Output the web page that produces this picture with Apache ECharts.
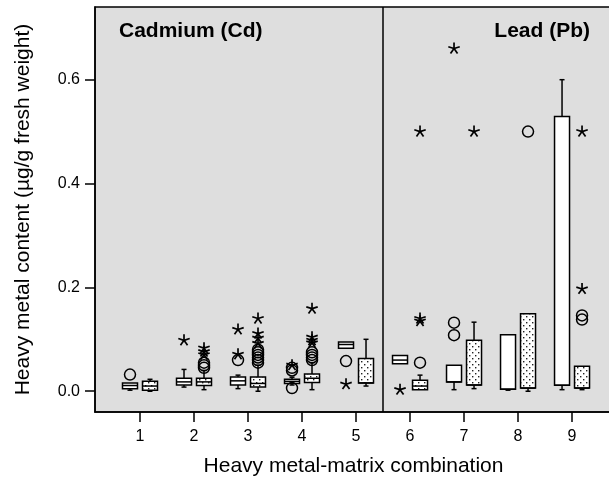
<!DOCTYPE html>
<html>
<head>
<meta charset="utf-8">
<script src="https://cdn.jsdelivr.net/npm/echarts@6/dist/echarts.min.js"></script>
<style>
  html, body { margin: 0; padding: 0; background: #fff; }
  #main { width: 609px; height: 478px; }
</style>
</head>
<body>
<div id="main"></div>
<script>
// heavy metal-matrix combinations (1-5 cadmium, 6-9 lead)
var categories = [1, 2, 3, 4, 5, 6, 7, 8, 9];
var yTicks = [0, 0.2, 0.4, 0.6];

// box values per combination: [low whisker, Q1, median, Q3, high whisker]
var plainBoxes = [
  [0.002, 0.005, 0.011, 0.016, 0.016],
  [0.008, 0.012, 0.018, 0.025, 0.042],
  [0.005, 0.012, 0.020, 0.0275, 0.031],
  [0.012, 0.015, 0.019, 0.023, 0.027],
  [0.083, 0.083, 0.090, 0.095, 0.095],
  [0.053, 0.053, 0.060, 0.069, 0.069],
  [0.003, 0.018, 0.018, 0.050, 0.050],
  [0.002, 0.004, 0.004, 0.109, 0.109],
  [0.003, 0.0115, 0.0115, 0.529, 0.600]
];
var dottedBoxes = [
  [0.000, 0.002, 0.010, 0.019, 0.023],
  [0.003, 0.011, 0.018, 0.025, 0.040],
  [0.000, 0.008, 0.015, 0.0275, 0.050],
  [0.003, 0.017, 0.025, 0.033, 0.055],
  [0.010, 0.016, 0.016, 0.063, 0.100],
  [0.003, 0.003, 0.010, 0.021, 0.031],
  [0.005, 0.012, 0.012, 0.098, 0.133],
  [0.000, 0.006, 0.006, 0.149, 0.149],
  [0.003, 0.006, 0.006, 0.048, 0.048]
];

// outliers (circles) and extremes (stars): [combination, value]
var plainCircles = [[1, 0.032], [3, 0.060], [4, 0.006], [4, 0.040], [4, 0.045], [5, 0.058], [7, 0.108], [7, 0.132]];
var plainStars = [[2, 0.098], [3, 0.119], [3, 0.071], [4, 0.050], [5, 0.0135], [6, 0.003], [7, 0.660]];
var dottedCircles = [[2, 0.045], [2, 0.050], [2, 0.055], [3, 0.055], [3, 0.060], [3, 0.065], [3, 0.070], [3, 0.075], [3, 0.080],
  [4, 0.060], [4, 0.065], [4, 0.070], [4, 0.075], [6, 0.055], [8, 0.500], [9, 0.138], [9, 0.146]];
var dottedStars = [[2, 0.070], [2, 0.076], [2, 0.083], [3, 0.092], [3, 0.102], [3, 0.111], [3, 0.140],
  [4, 0.093], [4, 0.098], [4, 0.104], [4, 0.159], [6, 0.135], [6, 0.140], [6, 0.500], [7, 0.500], [9, 0.197], [9, 0.500]];

// dotted fill pattern
var pat = document.createElement("canvas");
pat.width = 6;
pat.height = 6;
var pctx = pat.getContext("2d");
pctx.fillStyle = "#fff";
pctx.fillRect(0, 0, 6, 6);
pctx.fillStyle = "#222";
pctx.fillRect(1, 1, 1.4, 1.4);
pctx.fillRect(4, 4, 1.4, 1.4);
var dotFill = { image: pat, repeat: "repeat" };

var OFF = 10; // px offset of the two boxes from the tick
var HW = 7.5; // half box width

function boxRender(offset, fill) {
  return function (params, api) {
    var cat = api.value(0);
    var cx = api.coord([cat, 0])[0] + offset;
    var y = function (i) { return api.coord([cat, api.value(i)])[1]; };
    var yl = y(1), y1 = y(2), ym = y(3), y3 = y(4), yh = y(5);
    var ls = { stroke: "#000", lineWidth: 1.5 };
    var kids = [];
    if (yl - y1 > 0.5) {
      kids.push({ type: "line", shape: { x1: cx, y1: y1, x2: cx, y2: yl }, style: ls });
      kids.push({ type: "line", shape: { x1: cx - 2.5, y1: yl, x2: cx + 2.5, y2: yl }, style: ls });
    }
    if (y3 - yh > 0.5) {
      kids.push({ type: "line", shape: { x1: cx, y1: yh, x2: cx, y2: y3 }, style: ls });
      kids.push({ type: "line", shape: { x1: cx - 2.5, y1: yh, x2: cx + 2.5, y2: yh }, style: ls });
    }
    kids.push({ type: "rect", shape: { x: cx - HW, y: y3, width: HW * 2, height: Math.max(y1 - y3, 2) },
      style: { fill: fill, stroke: "#000", lineWidth: 1.5 } });
    kids.push({ type: "line", shape: { x1: cx - HW, y1: ym, x2: cx + HW, y2: ym }, style: ls });
    return { type: "group", children: kids };
  };
}

function circleRender(offset) {
  return function (params, api) {
    var p = api.coord([api.value(0), api.value(1)]);
    return { type: "circle", shape: { cx: p[0] + offset, cy: p[1], r: 5.5 },
      style: { fill: "none", stroke: "#000", lineWidth: 1.5 } };
  };
}

function starRender(offset) {
  return function (params, api) {
    var p = api.coord([api.value(0), api.value(1)]);
    var cx = p[0] + offset, cy = p[1];
    var kids = [];
    for (var k = 0; k < 5; k++) {
      var a = (-90 + k * 72) * Math.PI / 180;
      kids.push({ type: "line", shape: { x1: cx, y1: cy, x2: cx + 6 * Math.cos(a), y2: cy + 6 * Math.sin(a) },
        style: { stroke: "#000", lineWidth: 1.7 } });
    }
    return { type: "group", children: kids };
  };
}

function withCat(rows) {
  return rows.map(function (r, i) { return [categories[i]].concat(r); });
}

var myChart = echarts.init(document.getElementById("main"), null, { renderer: "canvas" });
var option = {
  animation: false,
  title: [
    { text: "Cadmium (Cd)", left: 114, top: 16, textStyle: { fontFamily: "Liberation Sans", fontWeight: "bold", fontSize: 21, color: "#000" } },
    { text: "Lead (Pb)", right: 14, top: 16, textStyle: { fontFamily: "Liberation Sans", fontWeight: "bold", fontSize: 21, color: "#000" } }
  ],
  grid: {
    left: 95, right: -3, top: 7, bottom: 66, outerBoundsMode: "none",
    show: true, backgroundColor: "#dedede", borderColor: "#000", borderWidth: 1.5
  },
  xAxis: {
    type: "value", min: 0.1667, max: 9.74,
    name: "Heavy metal-matrix combination", nameLocation: "middle", nameGap: 44,
    nameTextStyle: { fontFamily: "Liberation Sans", fontSize: 21, color: "#000" },
    axisLine: { show: true, onZero: false, lineStyle: { color: "#000", width: 1.5 } },
    axisTick: { show: true, length: 10, customValues: categories, lineStyle: { color: "#000", width: 1.5 } },
    axisLabel: { customValues: categories, margin: 17, fontFamily: "Liberation Sans", fontSize: 16, color: "#000" },
    splitLine: { show: false }
  },
  yAxis: {
    type: "value", min: -0.04, max: 0.74,
    name: "Heavy metal content (µg/g fresh weight)", nameLocation: "middle", nameGap: 61,
    nameTextStyle: { fontFamily: "Liberation Sans", fontSize: 21, color: "#000" },
    axisLine: { show: true, onZero: false, lineStyle: { color: "#000", width: 1.5 } },
    axisTick: { show: true, length: 10, customValues: yTicks, lineStyle: { color: "#000", width: 1.5 } },
    axisLabel: { customValues: yTicks, margin: 15, fontFamily: "Liberation Sans", fontSize: 16, color: "#000",
      formatter: function (v) { return v.toFixed(1); } },
    splitLine: { show: false }
  },
  series: [
    {
      type: "custom", renderItem: boxRender(-OFF, "#fff"), data: withCat(plainBoxes), silent: true,
      markLine: { silent: true, symbol: "none", label: { show: false },
        lineStyle: { color: "#000", width: 1.5, type: "solid" }, data: [{ xAxis: 5.5 }] }
    },
    { type: "custom", renderItem: boxRender(OFF, dotFill), data: withCat(dottedBoxes), silent: true },
    { type: "custom", renderItem: circleRender(-OFF), data: plainCircles, silent: true },
    { type: "custom", renderItem: circleRender(OFF), data: dottedCircles, silent: true },
    { type: "custom", renderItem: starRender(-OFF), data: plainStars, silent: true },
    { type: "custom", renderItem: starRender(OFF), data: dottedStars, silent: true }
  ]
};
myChart.setOption(option);
</script>
</body>
</html>
